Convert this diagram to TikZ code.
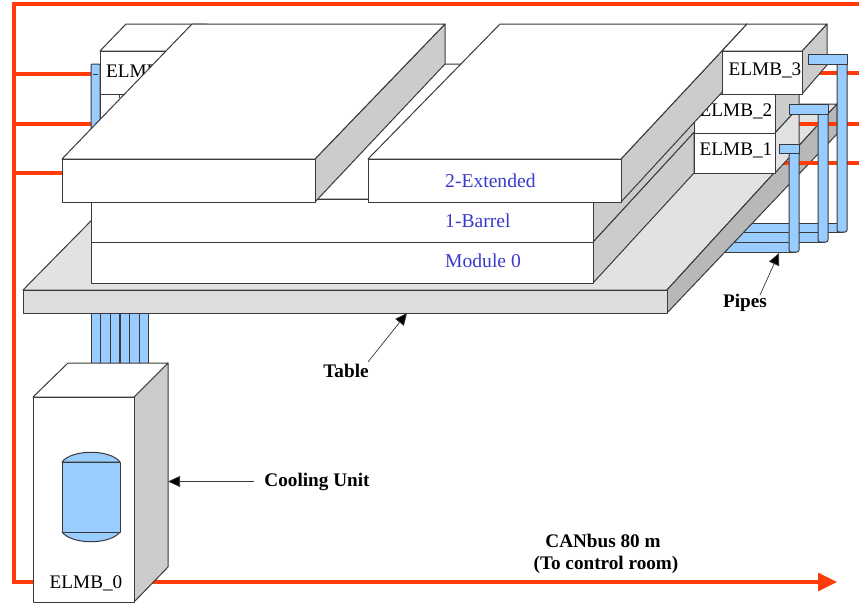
\documentclass[tikz,border=0pt]{standalone}
\usepackage{fontspec}
\setmainfont{Liberation Serif}
\usetikzlibrary{arrows.meta}
\definecolor{redl}{HTML}{FF3C0A}
\definecolor{pipeb}{HTML}{99CCFF}
\definecolor{lbl}{HTML}{3A3ACC}
\definecolor{ln}{HTML}{3A3A3A}
\definecolor{sideg}{HTML}{CCCCCC}
\definecolor{tabtop}{HTML}{E2E2E2}
\definecolor{tabfront}{HTML}{DDDDDD}
\definecolor{tabside}{HTML}{B8B8B8}
\tikzset{
  face/.style={draw=ln,line width=1pt,fill=white,line join=round},
  sideface/.style={face,fill=sideg},
  pipe/.style={draw=ln,line width=1pt,fill=pipeb,line join=round},
  can/.style={draw=redl,line width=3.2pt},
  pointer/.style={draw=ln,line width=0.7pt,-{Triangle[length=12pt,width=11pt,fill=black]}},
  elmb/.style={font=\fontsize{19.2}{20}\selectfont,inner sep=0pt,text=black},
  modlabel/.style={font=\fontsize{19.6}{20}\selectfont,inner sep=0pt,anchor=west,text=lbl},
  caption/.style={font=\fontsize{19.2}{20}\selectfont\bfseries,inner sep=0pt,text=black}
}
\begin{document}
\begin{tikzpicture}[x=1pt,y=-1pt]
\useasboundingbox (0,0) rectangle (859,605);
\fill[white] (0,0) rectangle (859,605);
% named anchors for the CAN bus
\coordinate (cTR) at (859,4);
\coordinate (cTL) at (14,4);
\coordinate (cBL) at (14,582);
\coordinate (cBR) at (837,582);
\coordinate (l1) at (14,74);   \coordinate (l1e) at (92,74);
\coordinate (l2) at (14,124);  \coordinate (l2e) at (92,124);
\coordinate (l3) at (14,173);  \coordinate (l3e) at (63,173);
\coordinate (r3a) at (812,73); \coordinate (r3b) at (859,73);
\coordinate (r2a) at (779,124);\coordinate (r2b) at (859,124);
\coordinate (r1a) at (779,163);\coordinate (r1b) at (859,163);
% CAN bus, main loop
\draw[can,line join=miter,-{Triangle[length=19pt,width=18pt,fill=redl]}] (cTR) -- (cTL) -- (cBL) -- (cBR);
\draw[can] (l1) -- (l1e);
\draw[can] (l2) -- (l2e);
\draw[can] (l3) -- (l3e);
\draw[can] (r3a) -- (r3b);
% horizontal pipes, right
\draw[pipe] (720,223) rectangle (843,232);
\draw[pipe] (720,232) rectangle (824,242);
\draw[pipe] (720,242) rectangle (795,252);
% pipes to the cooling unit
\foreach \x in {91,100.7,110.3,120,129.7,139.3}
  \draw[pipe] (\x,305) rectangle (\x+9.67,366);
% table
\draw[face,fill=tabtop] (23,290) -- (667,290) -- (837,104) -- (206,104) -- cycle;
\draw[face,fill=tabside] (667,290) -- (837,104) -- (837,134) -- (667,313) -- cycle;
\draw[face,fill=tabfront] (23,290.5) rectangle (667,313);
% red lines crossing the table
\draw[can] (r2a) -- (r2b);
\draw[can] (r1a) -- (r1b);
% module 0 and barrel
\draw[face] (91,199) -- (218,64) -- (720,64) -- (593,199) -- cycle;
\draw[sideface] (593,242) -- (593,283) -- (694,173) -- (694,132) -- cycle;
\draw[sideface] (593,202) -- (593,242) -- (720,104) -- (720,64) -- cycle;
\draw[face] (91,242.5) rectangle (593,283);
\draw[face] (91,199) rectangle (593,242.5);
% rear left pipe and ELMB
\draw[pipe,rounded corners=1pt] (91,64) rectangle (100,135);
\draw[ln,line width=0.9pt] (93,74.5) -- (98,74.5);
\draw[face] (100,94) rectangle (180,133);
\draw[ln,line width=0.9pt] (119,94) -- (119,98);
\draw[face] (100,51) -- (126,24) -- (207,24) -- (180,51) -- cycle;
\draw[face] (100,51) rectangle (180,94);
\node[elmb,anchor=west] (elmbrear) at (106,71) {ELMB};
% ELMB 2 and 1
\draw[sideface] (775,94) -- (799,94) -- (799,107) -- (775,133) -- cycle;
\draw[face] (694,94) rectangle (775,133);
\node[elmb] (elmbtwo) at (736,111.5) {ELMB\_2};
\draw[face,fill=tabtop] (775,133) -- (799,107) -- (799,147) -- (775,173) -- cycle;
\draw[face] (694,133) rectangle (775,173);
\node[elmb] (elmbone) at (736,150.5) {ELMB\_1};
% 2-Extended, left block
\draw[sideface] (315,159) -- (445,24) -- (445,64) -- (315,202) -- cycle;
\draw[face] (62,159) -- (192,24) -- (445,24) -- (315,159) -- cycle;
\draw[face] (62,159) rectangle (315,202.5);
% 2-Extended, right block
\draw[sideface] (621,159) -- (747,24) -- (747,65) -- (621,202) -- cycle;
\draw[face] (368,159) -- (500,24) -- (747,24) -- (621,159) -- cycle;
\draw[face] (368,159) rectangle (621,202.5);
% ELMB 3
\draw[sideface] (802,51) -- (827,24) -- (827,65) -- (802,94) -- cycle;
\draw[face] (722,51) -- (747,24) -- (827,24) -- (802,51) -- cycle;
\draw[face] (722,51) rectangle (802,94);
\node[elmb] (elmbthree) at (765,70.5) {ELMB\_3};
% vertical pipes, right
\draw[pipe,rounded corners=2pt] (837,58) rectangle (847,232);
\draw[pipe] (808,54) rectangle (847,64);
\draw[pipe,rounded corners=2pt] (818,108) rectangle (828,242);
\draw[pipe] (789,104) rectangle (828,114);
\draw[pipe,rounded corners=2pt] (789,148) rectangle (799,252);
\draw[pipe] (779,144) rectangle (799,153);
% module labels
\node[modlabel] (mext) at (445,181) {2-Extended};
\node[modlabel] (mbar) at (445,221) {1-Barrel};
\node[modlabel] (mmod) at (445,261) {Module 0};
% cooling unit
\draw[sideface] (134,397) -- (168,363) -- (168,567) -- (134,602) -- cycle;
\draw[face] (33,397) -- (68,363) -- (168,363) -- (134,397) -- cycle;
\draw[face] (33,397) rectangle (134,602);
\draw[pipe] (62,462) .. controls (72,449) and (110,449) .. (120,462) -- cycle;
\draw[pipe] (62,532) .. controls (72,545) and (110,545) .. (120,532) -- cycle;
\draw[pipe] (62,462) rectangle (120,532);
\node[elmb] (elmbzero) at (86,583) {ELMB\_0};
% captions and pointers
\node[caption] (table) at (346,371) {Table};
\node[caption] (cooling) at (317,482) {Cooling Unit};
\node[caption] (pipes) at (745,303) {Pipes};
\node[caption] (canbus) at (603,541) {CANbus 80 m};
\node[caption] (ctrl) at (606,565) {(To control room)};
\coordinate (ttip) at (407,313);
\coordinate (ctip) at (168,481.5);
\coordinate (ptip) at (779,253);
\coordinate (tstart) at (368,362);
\coordinate (cstart) at (254,481.5);
\coordinate (pstart) at (760,295);
\draw[pointer] (tstart) -- (ttip);
\draw[pointer] (cstart) -- (ctip);
\draw[pointer] (pstart) -- (ptip);
\end{tikzpicture}
\end{document}
